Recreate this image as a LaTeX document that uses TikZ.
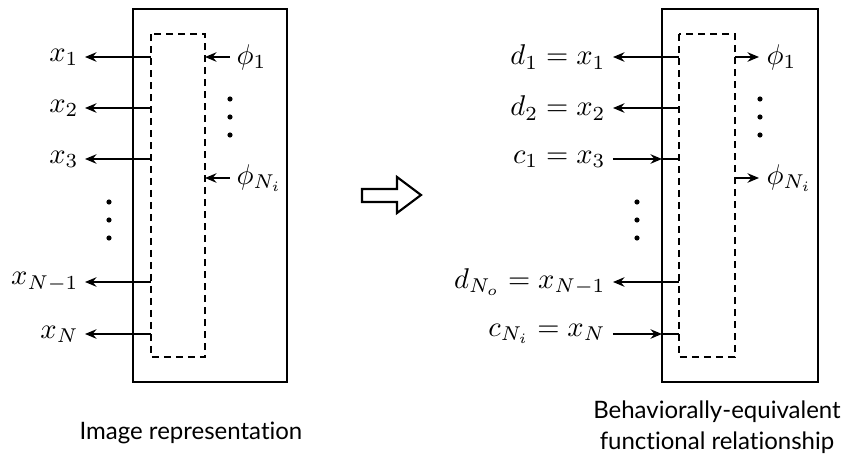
\documentclass[tikz,border=0pt]{standalone}
\usepackage{fontspec}
\setsansfont{Lato}[Ligatures=NoCommon]
\usetikzlibrary{arrows.meta}
\begin{document}
\begin{tikzpicture}[x=0.35pt,y=-0.35pt,
  solidbox/.style={draw, line width=0.8pt},
  dashbox/.style={draw, line width=0.6pt, dash pattern=on 2.6pt off 1.6pt},
  sig/.style={line width=0.75pt, -{Stealth[length=4pt,width=3.3pt]}},
  wire/.style={line width=0.75pt},
  lab/.style={inner sep=0pt, font=\fontsize{10.3}{12}\selectfont},
  captext/.style={font=\sffamily\fontsize{8.4}{10}\selectfont, align=center, inner sep=0pt},
  vdot/.style={fill, circle, inner sep=0pt, minimum size=1.8pt}]
\useasboundingbox (0,0) rectangle (841,462);
% ---------- left panel ----------
\draw[solidbox] (133,9) rectangle (287,382);
\draw[dashbox] (151,34) rectangle (205,357);
\coordinate (dLl) at (151,0);
\coordinate (dLr) at (205,0);
\coordinate (tLl) at (85,0);
\coordinate (tLr) at (230,0);
\node[lab, anchor=east] (lx1) at (79,57) {$x_1$};
\node[lab, anchor=east] (lx2) at (79,108) {$x_2$};
\node[lab, anchor=east] (lx3) at (79,159) {$x_3$};
\node[lab, anchor=east] (lxN1) at (79,282) {$x_{N-1}$};
\node[lab, anchor=east] (lxN) at (79,334) {$x_N$};
\foreach \n in {lx1,lx2,lx3,lxN1,lxN}
  \draw[sig] (dLl |- \n.east) -- (tLl |- \n.east);
\node[lab, anchor=west] (lp1) at (236,57) {$\phi_1$};
\node[lab, anchor=west] (lpN) at (236,178) {$\phi_{N_i}$};
\foreach \n in {lp1,lpN}
  \draw[sig] (tLr |- \n.west) -- (dLr |- \n.west);
\foreach \y in {99,117,135} \node[vdot] at (230,\y) {};
\foreach \y in {202,220,238} \node[vdot] at (109,\y) {};
\node[captext] (capL) at (191,433) {Image representation};
% ---------- transformation arrow ----------
\draw[line width=0.75pt, line join=miter] (362,189) -- (397,189) -- (397,177) -- (421,195) -- (397,213) -- (397,202) -- (362,202) -- cycle;
% ---------- right panel ----------
\draw[solidbox] (662,9) rectangle (818,382);
\draw[dashbox] (679,34) rectangle (735,357);
\coordinate (dRl) at (679,0);
\coordinate (dRr) at (735,0);
\coordinate (oRl) at (662,0);
\coordinate (tRl) at (613,0);
\coordinate (tRr) at (759,0);
\node[lab, anchor=east] (rd1) at (606,57) {$d_1 = x_1$};
\node[lab, anchor=east] (rd2) at (606,108) {$d_2 = x_2$};
\node[lab, anchor=east] (rc1) at (606,159) {$c_1 = x_3$};
\node[lab, anchor=east] (rdN) at (606,282) {$d_{N_o} = x_{N-1}$};
\node[lab, anchor=east] (rcN) at (606,334) {$c_{N_i} = x_N$};
\foreach \n in {rd1,rd2,rdN}
  \draw[sig] (dRl |- \n.east) -- (tRl |- \n.east);
\foreach \n in {rc1,rcN} {
  \draw[sig] (tRl |- \n.east) -- (oRl |- \n.east);
  \draw[wire] (oRl |- \n.east) -- (dRl |- \n.east);
}
\node[lab, anchor=west] (rp1) at (766,57) {$\phi_1$};
\node[lab, anchor=west] (rpN) at (766,178) {$\phi_{N_i}$};
\foreach \n in {rp1,rpN}
  \draw[sig] (dRr |- \n.west) -- (tRr |- \n.west);
\foreach \y in {99,117,135} \node[vdot] at (760,\y) {};
\foreach \y in {202,220,238} \node[vdot] at (637,\y) {};
\node[captext] (capR) at (717,427) {Behaviorally-equivalent\\[1pt]functional relationship};
\end{tikzpicture}
\end{document}
